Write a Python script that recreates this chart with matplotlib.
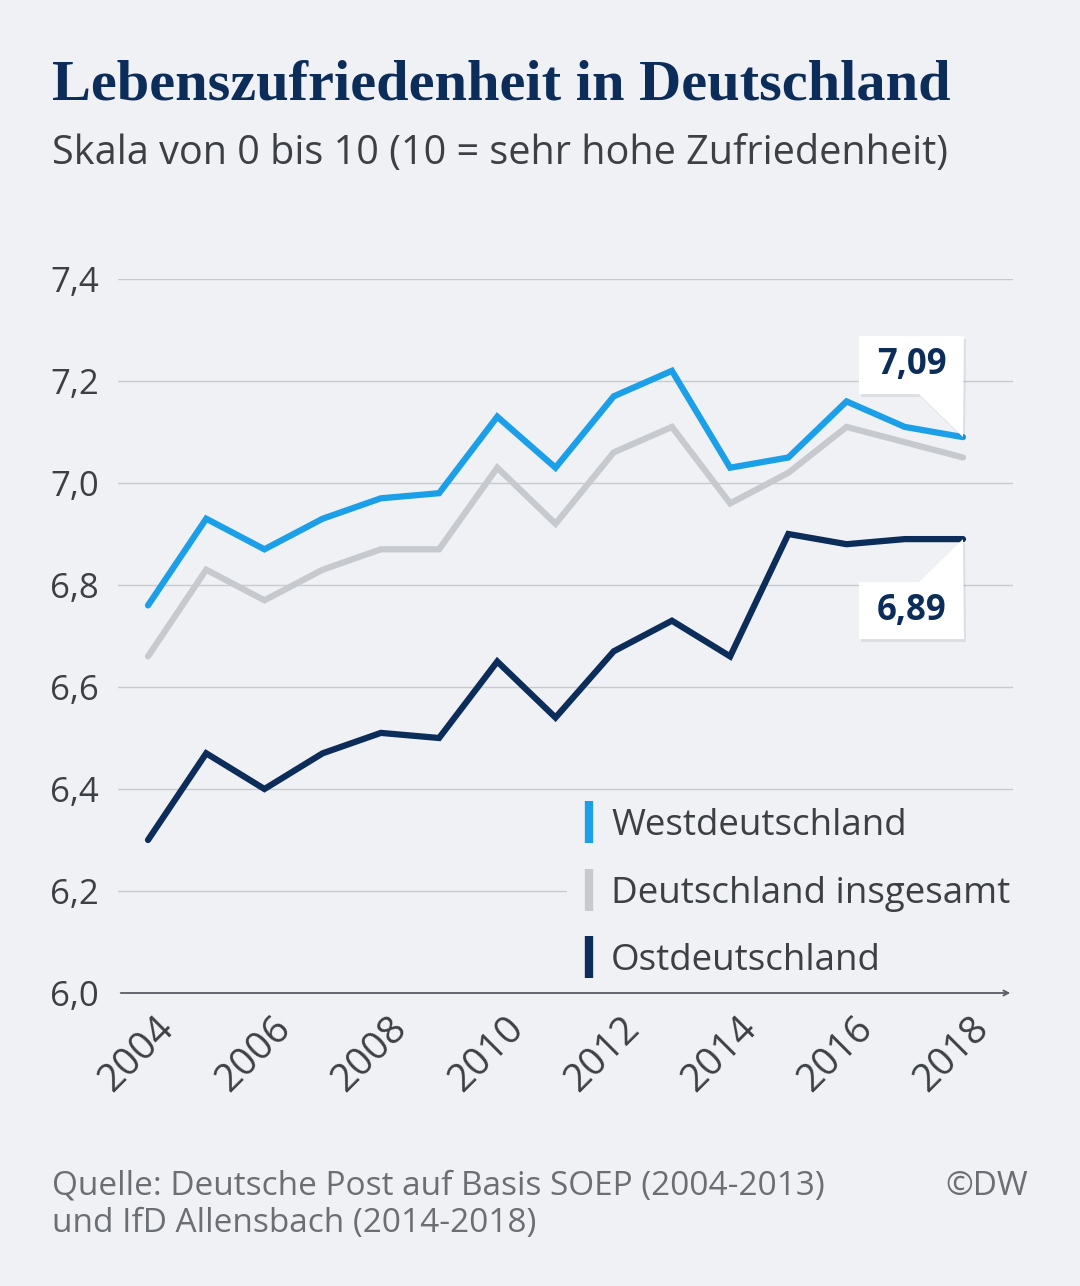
import matplotlib.pyplot as plt
import matplotlib.patches as patches
import matplotlib.transforms as mtransforms
from matplotlib.lines import Line2D

# data
years = list(range(2004, 2019))
west = [6.76, 6.93, 6.87, 6.93, 6.97, 6.98, 7.13, 7.03, 7.17, 7.22, 7.03, 7.05, 7.16, 7.11, 7.09]
gesamt = [6.66, 6.83, 6.77, 6.83, 6.87, 6.87, 7.03, 6.92, 7.06, 7.11, 6.96, 7.02, 7.11, 7.08, 7.05]
ost = [6.30, 6.47, 6.40, 6.47, 6.51, 6.50, 6.65, 6.54, 6.67, 6.73, 6.66, 6.90, 6.88, 6.89, 6.89]
labels = ["Westdeutschland", "Deutschland insgesamt", "Ostdeutschland"]
yticks = [6.0, 6.2, 6.4, 6.6, 6.8, 7.0, 7.2, 7.4]
xticks = [2004, 2006, 2008, 2010, 2012, 2014, 2016, 2018]

bg = "#f0f1f5"
c_west = "#1a9fe8"
c_ges = "#c6c9ce"
c_ost = "#0c2d5a"
txt = "#3c3f44"

fig = plt.figure(figsize=(10.8, 12.86), dpi=100, facecolor=bg)
ax = fig.add_axes([118/1080, 1 - 993/1286, 895/1080, 714/1286])
ax.set_facecolor(bg)

fig.text(52/1080, 1 - 100/1286, "Lebenszufriedenheit in Deutschland", family="Liberation Serif",
         weight="bold", fontsize=42, color=c_ost, va="baseline")
fig.text(52/1080, 1 - 164/1286, "Skala von 0 bis 10 (10 = sehr hohe Zufriedenheit)", family="Open Sans",
         fontsize=28.5, color=txt, va="baseline")

ax.plot(years, gesamt, color=c_ges, lw=4.5, solid_capstyle="round", solid_joinstyle="miter", clip_on=False, zorder=3)
ax.plot(years, west, color=c_west, lw=4.5, solid_capstyle="round", solid_joinstyle="miter", clip_on=False, zorder=4)
ax.plot(years, ost, color=c_ost, lw=4.5, solid_capstyle="round", solid_joinstyle="miter", clip_on=False, zorder=4)

ax.set_xlim(2004 - 30/58.2, 2018 + 50/58.2)
ax.set_ylim(6.0, 7.4)
ax.set_yticks(yticks)
ax.set_yticklabels([f"{v:.1f}".replace(".", ",") for v in yticks])
ax.set_xticks(xticks)
ax.set_xticklabels([str(y) for y in xticks])
ax.grid(axis="y", color="#c9cacf", lw=1)
ax.set_axisbelow(True)
for s in ax.spines.values():
    s.set_visible(False)
ax.tick_params(length=0)
ax.tick_params(axis="y", pad=49, labelsize=25, labelcolor=txt)
for t in ax.get_yticklabels():
    t.set_ha("left")
    t.set_family("Open Sans")
ax.tick_params(axis="x", pad=12, labelsize=28, labelcolor=txt)
offset = mtransforms.ScaledTranslation(7/100, 0, fig.dpi_scale_trans)
for t in ax.get_xticklabels():
    t.set_rotation(45)
    t.set_ha("right")
    t.set_va("top")
    t.set_rotation_mode("anchor")
    t.set_family("Open Sans")
    t.set_transform(t.get_transform() + offset)

# axis line with arrow
ax.annotate("", xy=(1.0, 0), xytext=(0, 0), xycoords="axes fraction",
            arrowprops=dict(arrowstyle="->,head_length=0.35,head_width=0.18", color="#5a5d63", lw=1.3))

# legend
handles = [Line2D([], [], color=c, marker="|", linestyle="none", markersize=30, markeredgewidth=6)
           for c in [c_west, c_ges, c_ost]]
leg = ax.legend(handles, labels, loc="upper left", bbox_to_anchor=(0.481, 0.30), frameon=True,
                facecolor=bg, edgecolor="none", framealpha=1, handlelength=0.6, handletextpad=0.3,
                labelspacing=0.85, borderpad=0.3, prop={"family": "Open Sans", "size": 26.5})
for t in leg.get_texts():
    t.set_color(txt)
leg.set_zorder(2)

# callout boxes
def callout(value, y, above):
    fig.canvas.draw()
    px, py = ax.transData.transform((years[-1], y))
    L, R = px - 104, px + 1
    if above:
        B, T = py + 43, py + 101
        verts = [(L, T), (R, T), (px, py), (px - 44, B), (L, B)]
    else:
        B, T = py - 100, py - 43
        verts = [(L, B), (R, B), (px, py), (px - 44, T), (L, T)]
    ty = (B + T) / 2
    sh = [(vx + 2, vy - 3) for vx, vy in verts]
    fig.add_artist(patches.Polygon(sh, closed=True, transform=mtransforms.IdentityTransform(),
                                   facecolor="#000000", alpha=0.08, edgecolor="none", zorder=5))
    fig.add_artist(patches.Polygon(verts, closed=True, transform=mtransforms.IdentityTransform(),
                                   facecolor="white", edgecolor="none", zorder=6))
    fig.text((L + R) / 2 / 1080, ty / 1286, f"{value:.2f}".replace(".", ","), family="Open Sans",
             weight="bold", fontsize=25, color=c_ost, ha="center", va="center", zorder=7)

callout(west[-1], west[-1], True)
callout(ost[-1], ost[-1], False)

foot = "#6b6e73"
fig.text(52/1080, 1 - 1195/1286, "Quelle: Deutsche Post auf Basis SOEP (2004-2013)",
         family="Open Sans", fontsize=24, color=foot, va="baseline")
fig.text(52/1080, 1 - 1232/1286, "und IfD Allensbach (2014-2018)",
         family="Open Sans", fontsize=24, color=foot, va="baseline")
fig.text(1028/1080, 1 - 1195/1286, "©DW", family="Open Sans", fontsize=24, color=foot,
         va="baseline", ha="right")

fig.savefig("out.png", dpi=100, facecolor=bg)
